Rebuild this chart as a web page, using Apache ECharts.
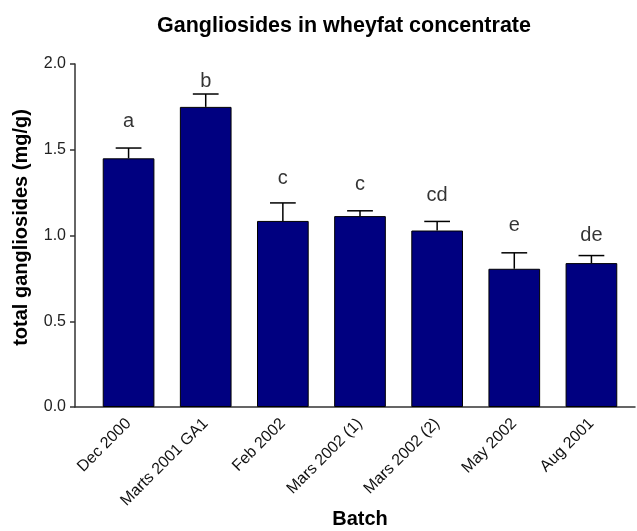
<!DOCTYPE html>
<html>
<head>
<meta charset="utf-8">
<script src="https://cdn.jsdelivr.net/npm/echarts@6/dist/echarts.min.js"></script>
<style>
  html, body { margin: 0; padding: 0; background: #fff; }
  #chart { width: 637px; height: 531px; }
</style>
</head>
<body>
<div id="chart"></div>
<script>
// Total gangliosides per wheyfat concentrate batch (mean ± SD, mg/g)
const batches = ['Dec 2000', 'Marts 2001 GA1', 'Feb 2002', 'Mars 2002 (1)', 'Mars 2002 (2)', 'May 2002', 'Aug 2001'];
const meanValues = [1.45, 1.75, 1.085, 1.113, 1.029, 0.806, 0.839];
const sdValues = [0.06, 0.075, 0.105, 0.031, 0.053, 0.093, 0.044];
// Significance groups and the level (mg/g) at which each letter stands
const groupLetters = ['a', 'b', 'c', 'c', 'cd', 'e', 'de'];
const letterLevels = [1.664, 1.90, 1.33, 1.295, 1.236, 1.056, 1.003];
const yTicks = [0, 0.5, 1.0, 1.5, 2.0];

const FONT = '"Liberation Sans", Arial, sans-serif';
const AXIS_COLOR = '#333';

const chart = echarts.init(document.getElementById('chart'), null, { renderer: 'canvas' });

const option = {
  backgroundColor: '#fff',
  animation: false,
  title: {
    text: 'Gangliosides in wheyfat concentrate',
    left: 339,
    top: 10,
    textAlign: 'center',
    textStyle: { fontFamily: FONT, fontWeight: 'bold', fontSize: 21.5, color: '#000' }
  },
  grid: [
    // frame: y axis and the baseline
    { left: 75, right: 2, top: 64, height: 343, containLabel: false, outerBoundsMode: 'none' },
    // bars
    { left: 90, width: 540, top: 64, height: 343, containLabel: false, outerBoundsMode: 'none' }
  ],
  xAxis: [
    {
      gridIndex: 0, type: 'category', data: [''],
      axisLine: { show: true, lineStyle: { color: AXIS_COLOR, width: 1.5 } },
      axisTick: { show: false }, axisLabel: { show: false }
    },
    {
      gridIndex: 1, type: 'category', data: batches,
      axisLine: { show: false }, axisTick: { show: false },
      axisLabel: {
        rotate: 45, interval: 0, margin: 14,
        fontFamily: FONT, fontSize: 16, color: '#111'
      },
      name: 'Batch', nameLocation: 'middle', nameGap: 102, nameMoveOverlap: false,
      nameTextStyle: { fontFamily: FONT, fontWeight: 'bold', fontSize: 20, color: '#000' }
    }
  ],
  yAxis: [
    {
      gridIndex: 0, type: 'value', min: yTicks[0], max: yTicks[yTicks.length - 1], interval: 0.5,
      axisLine: { show: true, lineStyle: { color: AXIS_COLOR, width: 1.5 } },
      axisTick: { show: true, length: 5, lineStyle: { color: AXIS_COLOR, width: 1.5 } },
      splitLine: { show: false },
      axisLabel: {
        margin: 9, fontFamily: FONT, fontSize: 16, color: '#222',
        formatter: v => v.toFixed(1)
      },
      name: 'total gangliosides (mg/g)', nameLocation: 'middle', nameGap: 44,
      nameTextStyle: {
        fontFamily: FONT, fontWeight: 'bold', fontSize: 20, color: '#000',
        padding: [0, 0, 0, 16]
      }
    },
    {
      gridIndex: 1, type: 'value', min: yTicks[0], max: yTicks[yTicks.length - 1], interval: 0.5,
      show: false, splitLine: { show: false }
    }
  ],
  series: [
    {
      type: 'bar', xAxisIndex: 1, yAxisIndex: 1,
      data: meanValues,
      barWidth: '67%',
      itemStyle: { color: '#000080', borderColor: '#000', borderWidth: 1 },
      z: 2
    },
    {
      // upper error whisker with cap
      type: 'custom', xAxisIndex: 1, yAxisIndex: 1,
      data: meanValues.map((m, i) => [i, m, m + sdValues[i]]),
      encode: { x: 0, y: [1, 2] },
      renderItem: (params, api) => {
        const base = api.coord([api.value(0), api.value(1)]);
        const top = api.coord([api.value(0), api.value(2)]);
        const half = api.size([1, 0])[0] * 0.167;
        const style = { stroke: '#000', lineWidth: 1.5 };
        return {
          type: 'group',
          children: [
            { type: 'line', shape: { x1: base[0], y1: base[1], x2: top[0], y2: top[1] }, style },
            { type: 'line', shape: { x1: top[0] - half, y1: top[1], x2: top[0] + half, y2: top[1] }, style }
          ]
        };
      },
      z: 1
    },
    {
      // significance letters
      type: 'scatter', xAxisIndex: 1, yAxisIndex: 1,
      symbolSize: 0,
      data: letterLevels.map((v, i) => [i, v]),
      label: {
        show: true, position: 'inside',
        formatter: p => groupLetters[p.dataIndex],
        fontFamily: FONT, fontSize: 20, color: '#000'
      },
      silent: true
    }
  ]
};

chart.setOption(option);
</script>
</body>
</html>
